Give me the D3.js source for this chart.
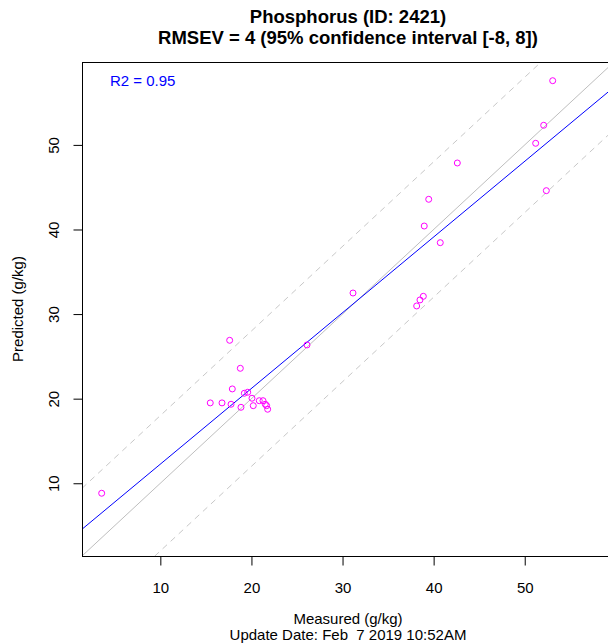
<!DOCTYPE html>
<html>
<head>
<meta charset="utf-8">
<script src="https://cdn.jsdelivr.net/npm/d3@7"></script>
<style>
  body { margin: 0; background: #fff; }
  svg { display: block; font-family: "Liberation Sans", Arial, sans-serif; }
</style>
</head>
<body>
<svg id="chart"></svg>
<script>
// values
var measured  = [3.56, 17.61, 18.78, 17.9, 19.22, 19.59, 15.48, 16.77, 17.76, 18.85,
                 20.06, 20.2, 20.86, 21.27, 21.52, 21.67, 21.78, 26.1, 31.15, 38.14,
                 38.5, 38.87, 38.97, 39.46, 40.73, 42.6, 51.2, 52.08, 52.37, 53.07];
var predicted = [8.82, 26.9, 23.59, 21.15, 20.64, 20.76, 19.5, 19.5, 19.34, 18.98,
                 20.05, 19.17, 19.76, 19.76, 19.34, 19.17, 18.75, 26.35, 32.49, 30.96,
                 31.67, 32.1, 40.41, 43.57, 38.44, 47.86, 50.19, 52.32, 44.59, 57.59];
var axisTicks = [10, 20, 30, 40, 50];
var axisRange = [1.4, 59.8];
var fitLine = [3.31, 0.895];   // intercept, slope
var ciOffset = 8;
var r2Value = 0.95;
var titleLines = ['Phosphorus (ID: 2421)', 'RMSEV = 4 (95% confidence interval [-8, 8])'];

var svgWidth = 608, svgHeight = 643;
var plot = { left: 82, top: 62, right: 614, bottom: 556 };
var labelSize = 15;

var svg = d3.select('#chart').attr('width', svgWidth).attr('height', svgHeight);

var xScale = d3.scaleLinear().domain(axisRange).range([plot.left, plot.right]);
var yScale = d3.scaleLinear().domain(axisRange).range([plot.bottom, plot.top]);

svg.append('clipPath').attr('id', 'plotClip')
   .append('rect')
   .attr('x', plot.left).attr('y', plot.top)
   .attr('width', plot.right - plot.left).attr('height', plot.bottom - plot.top);

var inner = svg.append('g').attr('clip-path', 'url(#plotClip)');

function addLine(a, b, color, dash) {
  var x0 = axisRange[0], x1 = axisRange[1];
  inner.append('line')
       .attr('x1', xScale(x0)).attr('y1', yScale(a + b * x0))
       .attr('x2', xScale(x1)).attr('y2', yScale(a + b * x1))
       .attr('stroke', color).attr('stroke-width', 1)
       .attr('stroke-dasharray', dash || null);
}

addLine(0, 1, '#bebebe');
addLine(ciOffset, 1, '#c8c8c8', '6,5');
addLine(-ciOffset, 1, '#c8c8c8', '6,5');
addLine(fitLine[0], fitLine[1], '#0000ff');

inner.selectAll('.pt')
     .data(measured)
     .enter()
     .append('circle')
     .attr('class', 'pt')
     .attr('cx', (d) => xScale(d))
     .attr('cy', (d, i) => yScale(predicted[i]))
     .attr('r', 3)
     .attr('fill', 'none')
     .attr('stroke', '#ff00ff')
     .attr('stroke-width', 1);

// frame
svg.append('rect')
   .attr('x', plot.left + 0.5).attr('y', plot.top + 0.5)
   .attr('width', plot.right - plot.left).attr('height', plot.bottom - plot.top)
   .attr('fill', 'none').attr('stroke', '#000').attr('stroke-width', 1);

var xAxis = svg.append('g')
   .attr('transform', 'translate(0,' + (plot.bottom + 0.5) + ')')
   .call(d3.axisBottom(xScale).tickValues(axisTicks).tickSize(9).tickPadding(17).tickSizeOuter(0));
xAxis.select('.domain').remove();
xAxis.selectAll('text').attr('font-size', labelSize).attr('fill', '#000')
     .attr('font-family', '"Liberation Sans", Arial, sans-serif');

var yAxis = svg.append('g')
   .attr('transform', 'translate(' + (plot.left + 0.5) + ',0)')
   .call(d3.axisLeft(yScale).tickValues(axisTicks).tickSize(9).tickSizeOuter(0));
yAxis.select('.domain').remove();
yAxis.selectAll('text').remove();
yAxis.selectAll('.tick').append('text')
     .attr('transform', 'translate(-24,0) rotate(-90)')
     .attr('text-anchor', 'middle')
     .attr('font-size', labelSize)
     .attr('fill', '#000')
     .text((d) => d);

// titles
svg.selectAll('.title')
   .data(titleLines)
   .enter()
   .append('text')
   .attr('class', 'title')
   .attr('x', (plot.left + plot.right) / 2)
   .attr('y', (d, i) => 23 + i * 21)
   .attr('text-anchor', 'middle')
   .attr('font-size', 18.5)
   .attr('font-weight', 'bold')
   .text((d) => d);

svg.append('text')
   .attr('x', 110).attr('y', 86)
   .attr('font-size', labelSize)
   .attr('fill', '#0000ff')
   .text('R2 = ' + r2Value);

svg.append('text')
   .attr('x', (plot.left + plot.right) / 2).attr('y', 624)
   .attr('text-anchor', 'middle').attr('font-size', labelSize)
   .text('Measured (g/kg)');
svg.append('text')
   .attr('x', (plot.left + plot.right) / 2).attr('y', 640)
   .attr('text-anchor', 'middle').attr('font-size', labelSize)
   .text('Update Date: Feb  7 2019 10:52AM')
   .attr('xml:space', 'preserve').style('white-space', 'pre');

svg.append('text')
   .attr('transform', 'translate(23,' + ((plot.top + plot.bottom) / 2) + ') rotate(-90)')
   .attr('text-anchor', 'middle').attr('font-size', labelSize)
   .text('Predicted (g/kg)');
</script>
</body>
</html>
